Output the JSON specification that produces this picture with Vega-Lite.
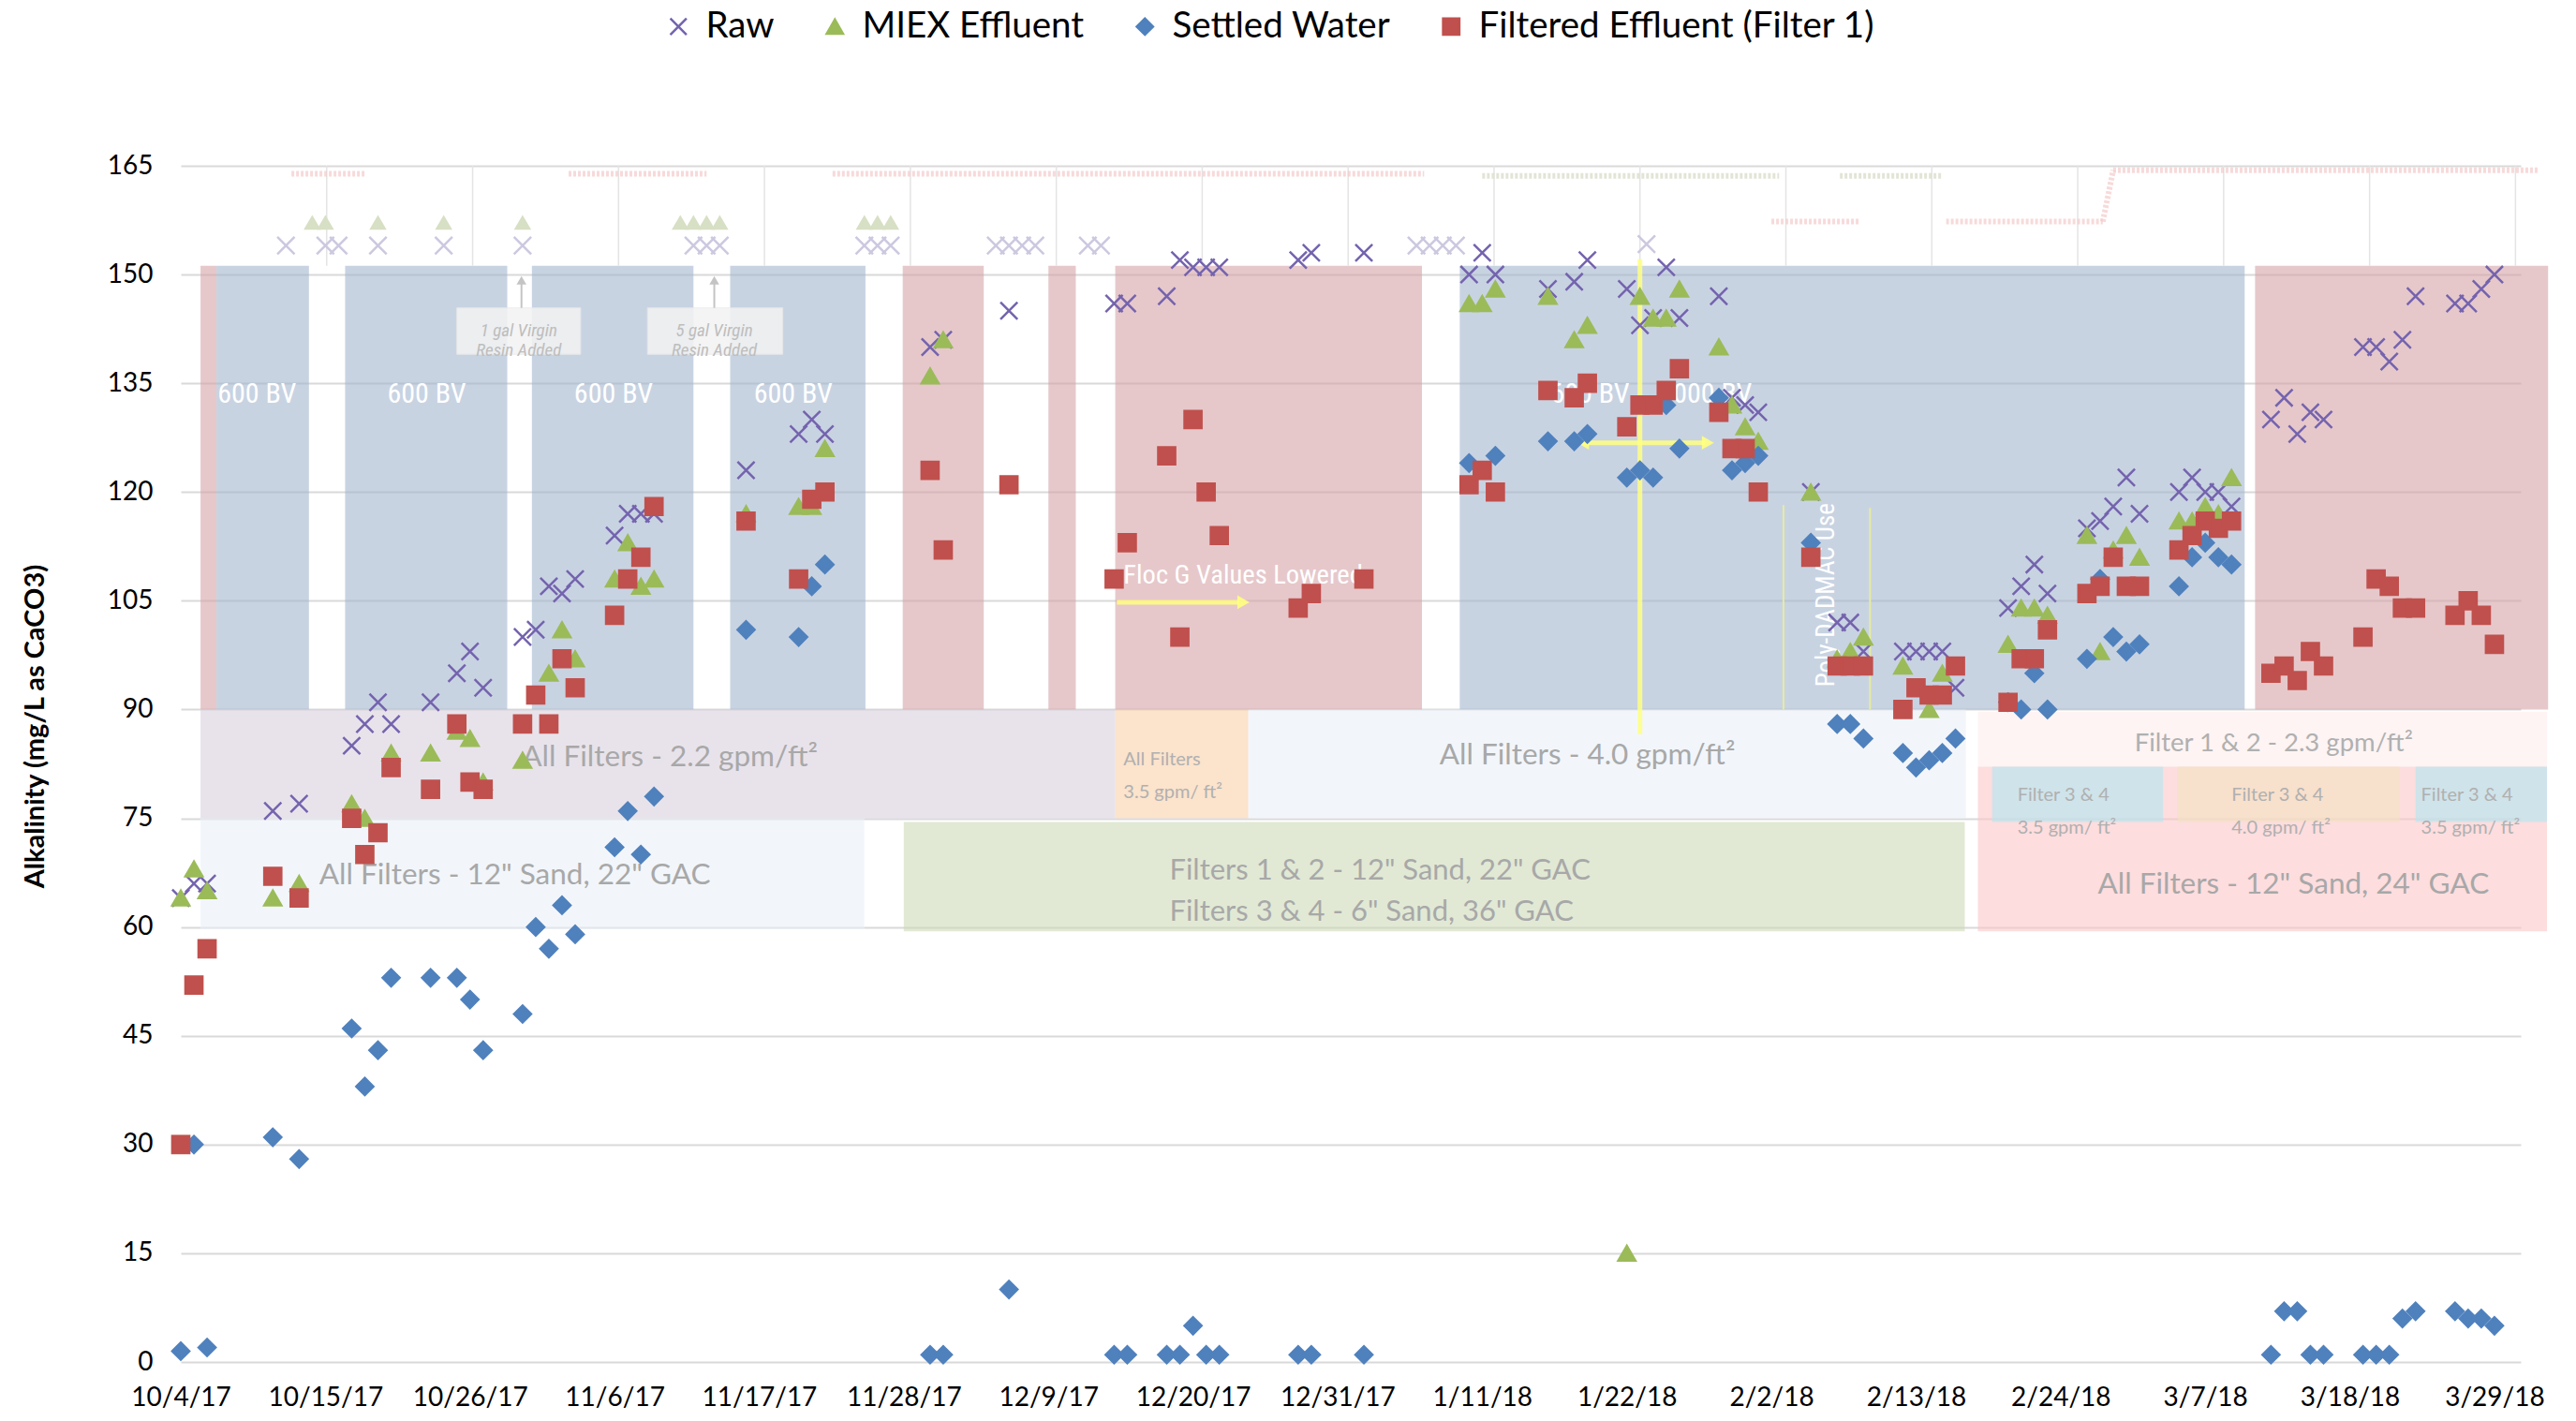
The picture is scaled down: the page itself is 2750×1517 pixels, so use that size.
{
"$schema": "https://vega.github.io/schema/vega-lite/v6.json",
"width": 2498, "height": 1277,
"autosize": {"type": "none"},
"padding": {"left": 193, "top": 177, "right": 59, "bottom": 63},
"background": "white",
"config": {
  "font": "Lato",
  "view": {"stroke": null},
  "axisX": {"ticks": false, "domain": false, "grid": false, "labelFontSize": 28, "labelColor": "#000", "labelPadding": 24, "labelFlush": false, "labelFont": "Lato"},
  "axisY": {"ticks": false, "domain": false, "grid": true, "gridColor": "#D9D9D9", "gridWidth": 2, "labelFontSize": 28, "labelColor": "#000", "labelPadding": 30, "titleFontSize": 29, "titleFontWeight": "bold", "titleColor": "#000", "titlePadding": 62, "titleY": 598, "labelFont": "Lato", "titleFont": "Lato"},
  "legend": {"orient": "none", "legendX": 512, "legendY": -168, "direction": "horizontal", "labelFontSize": 38.5, "labelFont": "Lato", "labelColor": "#000", "labelLimit": 0, "symbolSize": 300, "symbolStrokeWidth": 2.5, "columnPadding": 45, "labelOffset": 10}
},
"datasets": {
  "bands": [
    {"start":"2017/10/05 12:00","end":"2017/10/06 17:00","lo":90,"hi":151.2,"kind":"red"},
    {"start":"2017/10/06 17:00","end":"2017/10/13 18:00","lo":90,"hi":151.2,"kind":"blue"},
    {"start":"2017/10/16 12:00","end":"2017/10/28 20:00","lo":90,"hi":151.2,"kind":"blue"},
    {"start":"2017/10/30 17:00","end":"2017/11/12 00:00","lo":90,"hi":151.2,"kind":"blue"},
    {"start":"2017/11/14 19:00","end":"2017/11/25 02:00","lo":90,"hi":151.2,"kind":"blue"},
    {"start":"2017/11/27 22:00","end":"2017/12/04 02:00","lo":90,"hi":151.2,"kind":"red"},
    {"start":"2017/12/09 00:00","end":"2017/12/11 02:00","lo":90,"hi":151.2,"kind":"red"},
    {"start":"2017/12/14 02:00","end":"2018/01/06 10:00","lo":90,"hi":151.2,"kind":"red"},
    {"start":"2018/01/09 07:00","end":"2018/03/10 00:00","lo":90,"hi":151.2,"kind":"blue"},
    {"start":"2018/03/10 19:00","end":"2018/04/02 02:00","lo":90,"hi":151.2,"kind":"red"},
    {"start":"2017/10/05 12:00","end":"2017/12/14 02:00","lo":75,"hi":90,"kind":"lav"},
    {"start":"2017/12/14 02:00","end":"2017/12/24 05:00","lo":75,"hi":90,"kind":"orange"},
    {"start":"2017/12/24 05:00","end":"2018/02/16 19:00","lo":75,"hi":90,"kind":"lblue"},
    {"start":"2017/10/05 12:00","end":"2017/11/25 00:00","lo":59.7,"hi":75,"kind":"lblue"},
    {"start":"2017/11/28 00:00","end":"2018/02/16 17:00","lo":59.4,"hi":74.5,"kind":"green"},
    {"start":"2018/02/17 17:00","end":"2018/04/02 00:00","lo":82.1,"hi":89.7,"kind":"pale"},
    {"start":"2018/02/17 17:00","end":"2018/04/02 00:00","lo":59.4,"hi":82.1,"kind":"pink"},
    {"start":"2018/02/18 19:00","end":"2018/03/03 19:00","lo":74.5,"hi":82.1,"kind":"teal"},
    {"start":"2018/03/04 22:00","end":"2018/03/21 19:00","lo":74.5,"hi":82.1,"kind":"orange2"},
    {"start":"2018/03/23 00:00","end":"2018/04/02 00:00","lo":74.5,"hi":82.1,"kind":"teal"}
  ],
  "ggrid": [
    {"d":"2017/10/15 02:24","lo":151.2,"hi":165},{"d":"2017/10/26 04:48","lo":151.2,"hi":165},
    {"d":"2017/11/06 07:12","lo":151.2,"hi":165},{"d":"2017/11/17 09:36","lo":151.2,"hi":165},
    {"d":"2017/11/28 12:00","lo":151.2,"hi":165},{"d":"2017/12/09 14:24","lo":151.2,"hi":165},
    {"d":"2017/12/20 16:48","lo":151.2,"hi":165},{"d":"2017/12/31 19:12","lo":151.2,"hi":165},
    {"d":"2018/01/11 21:36","lo":151.2,"hi":165},{"d":"2018/01/23 00:00","lo":151.2,"hi":165},
    {"d":"2018/02/03 02:24","lo":151.2,"hi":165},{"d":"2018/02/14 04:48","lo":151.2,"hi":165},
    {"d":"2018/02/25 07:12","lo":151.2,"hi":165},{"d":"2018/03/08 09:36","lo":151.2,"hi":165},
    {"d":"2018/03/19 12:00","lo":151.2,"hi":165},{"d":"2018/03/30 14:24","lo":151.2,"hi":165}
  ],
  "gline": [
    {"a":"2017/10/12 10:00","b":"2017/10/18 02:00","y1":163.9,"y2":163.9,"k":"pink"},
    {"a":"2017/11/02 12:00","b":"2017/11/13 00:00","y1":163.9,"y2":163.9,"k":"pink"},
    {"a":"2017/11/22 14:00","b":"2018/01/06 14:00","y1":163.9,"y2":163.9,"k":"pink"},
    {"a":"2018/01/11 00:00","b":"2018/02/02 14:00","y1":163.6,"y2":163.6,"k":"grey"},
    {"a":"2018/02/07 05:00","b":"2018/02/15 00:00","y1":163.6,"y2":163.6,"k":"grey"},
    {"a":"2018/02/02 00:00","b":"2018/02/08 17:00","y1":157.3,"y2":157.3,"k":"pink"},
    {"a":"2018/02/15 07:00","b":"2018/02/27 05:00","y1":157.3,"y2":157.3,"k":"pink"},
    {"a":"2018/02/27 05:00","b":"2018/02/28 00:00","y1":157.3,"y2":164.4,"k":"pink"},
    {"a":"2018/02/28 00:00","b":"2018/04/01 10:00","y1":164.4,"y2":164.4,"k":"pink"}
  ],
  "rbox": [
    {"a":"2017/10/25 00:00","b":"2017/11/03 10:00","lo":139,"hi":145.4},
    {"a":"2017/11/08 12:00","b":"2017/11/18 19:00","lo":139,"hi":145.4}
  ],
  "rarrow": [
    {"d":"2017/10/29 22:00","lo":145.4,"hi":149.2},
    {"d":"2017/11/13 14:00","lo":145.4,"hi":149.2}
  ],
  "ylines": [
    {"a":"2018/01/23 00:00","b":"2018/01/23 00:00","y1":86.6,"y2":152.1},
    {"a":"2018/01/18 16:00","b":"2018/01/28 00:00","y1":126.8,"y2":126.8},
    {"a":"2017/12/14 05:00","b":"2017/12/23 12:00","y1":104.8,"y2":104.8}
  ],
  "yheadsR": [
    {"d":"2018/01/28 04:00","v":126.8},
    {"d":"2017/12/23 20:00","v":104.8}
  ],
  "yheadsL": [
    {"d":"2018/01/18 16:00","v":126.8}
  ],
  "plines": [
    {"d":"2018/02/02 22:00","lo":90,"hi":118.2},
    {"d":"2018/02/09 12:00","lo":90,"hi":117.8}
  ],
  "tbig": [
    {"d":"2017/11/10 05:00","v":83.3,"t":"All Filters - 2.2 gpm/ft²"},
    {"d":"2017/10/29 10:00","v":67.1,"t":"All Filters -  12\" Sand, 22\" GAC"},
    {"d":"2018/01/19 00:00","v":83.6,"t":"All Filters - 4.0 gpm/ft²"},
    {"d":"2018/03/13 17:00","v":65.8,"t":"All Filters - 12\" Sand, 24\" GAC"}
  ],
  "tfilters": [
    {"d":"2017/12/18 05:00","v":67.65,"t":"Filters 1 & 2 - 12\" Sand, 22\" GAC\nFilters 3 & 4 - 6\" Sand, 36\" GAC"}
  ],
  "tmid": [
    {"d":"2018/03/12 05:00","v":85.3,"t":"Filter 1 & 2 - 2.3 gpm/ft²"}
  ],
  "tsmall": [
    {"d":"2017/12/14 17:00","v":83.1,"t":"All Filters\n3.5 gpm/ ft²"},
    {"d":"2018/02/20 17:00","v":78.2,"t":"Filter 3 & 4\n3.5 gpm/ ft²"},
    {"d":"2018/03/09 00:00","v":78.2,"t":"Filter 3 & 4\n4.0 gpm/ ft²"},
    {"d":"2018/03/23 10:00","v":78.2,"t":"Filter 3 & 4\n3.5 gpm/ ft²"}
  ],
  "twhite": [
    {"d":"2017/10/09 19:00","v":133.5,"t":"600 BV"},
    {"d":"2017/10/22 17:00","v":133.5,"t":"600 BV"},
    {"d":"2017/11/05 22:00","v":133.5,"t":"600 BV"},
    {"d":"2017/11/19 14:00","v":133.5,"t":"600 BV"},
    {"d":"2018/01/19 05:00","v":133.5,"t":"600 BV"},
    {"d":"2018/01/28 00:00","v":133.5,"t":"1000 BV"}
  ],
  "tfloc": [{"d":"2017/12/14 17:00","v":108.5,"t":"Floc G Values Lowered"}],
  "tpoly": [{"d":"2018/02/06 05:00","v":105.8,"t":"Poly-DADMAC Use"}],
  "tresin": [
    {"d":"2017/10/29 17:00","v":142.2,"t":"1 gal Virgin\nResin Added"},
    {"d":"2017/11/13 14:00","v":142.2,"t":"5 gal Virgin\nResin Added"}
  ],
  "gpts": [
    {"d":"2017/10/14","v":157.2,"s":"tri"},{"d":"2017/10/15","v":157.2,"s":"tri"},{"d":"2017/10/19","v":157.2,"s":"tri"},
    {"d":"2017/10/24","v":157.2,"s":"tri"},{"d":"2017/10/30","v":157.2,"s":"tri"},{"d":"2017/11/11","v":157.2,"s":"tri"},
    {"d":"2017/11/12","v":157.2,"s":"tri"},{"d":"2017/11/13","v":157.2,"s":"tri"},{"d":"2017/11/14","v":157.2,"s":"tri"},
    {"d":"2017/11/25","v":157.2,"s":"tri"},{"d":"2017/11/26","v":157.2,"s":"tri"},{"d":"2017/11/27","v":157.2,"s":"tri"},
    {"d":"2017/10/12","v":154,"s":"x"},{"d":"2017/10/15","v":154,"s":"x"},{"d":"2017/10/16","v":154,"s":"x"},
    {"d":"2017/10/19","v":154,"s":"x"},{"d":"2017/10/24","v":154,"s":"x"},{"d":"2017/10/30","v":154,"s":"x"},
    {"d":"2017/11/12","v":154,"s":"x"},{"d":"2017/11/13","v":154,"s":"x"},{"d":"2017/11/14","v":154,"s":"x"},
    {"d":"2017/11/25","v":154,"s":"x"},{"d":"2017/11/26","v":154,"s":"x"},{"d":"2017/11/27","v":154,"s":"x"},
    {"d":"2017/12/05","v":154,"s":"x"},{"d":"2017/12/06","v":154,"s":"x"},{"d":"2017/12/07","v":154,"s":"x"},
    {"d":"2017/12/08","v":154,"s":"x"},{"d":"2017/12/12","v":154,"s":"x"},{"d":"2017/12/13","v":154,"s":"x"},
    {"d":"2018/01/06","v":154,"s":"x"},{"d":"2018/01/07","v":154,"s":"x"},{"d":"2018/01/08","v":154,"s":"x"},
    {"d":"2018/01/09","v":154,"s":"x"},{"d":"2018/01/23 12:00","v":154.2,"s":"x"}
  ],
  "pts": [
    {"d":"2017/10/04","v":64,"s":"Raw"},{"d":"2017/10/05","v":66,"s":"Raw"},{"d":"2017/10/06","v":66,"s":"Raw"},
    {"d":"2017/10/11","v":76,"s":"Raw"},{"d":"2017/10/13","v":77,"s":"Raw"},{"d":"2017/10/17","v":85,"s":"Raw"},
    {"d":"2017/10/18","v":88,"s":"Raw"},{"d":"2017/10/19","v":91,"s":"Raw"},{"d":"2017/10/20","v":88,"s":"Raw"},
    {"d":"2017/10/23","v":91,"s":"Raw"},{"d":"2017/10/25","v":95,"s":"Raw"},{"d":"2017/10/26","v":98,"s":"Raw"},
    {"d":"2017/10/27","v":93,"s":"Raw"},{"d":"2017/10/30","v":100,"s":"Raw"},{"d":"2017/10/31","v":101,"s":"Raw"},
    {"d":"2017/11/01","v":107,"s":"Raw"},{"d":"2017/11/02","v":106,"s":"Raw"},{"d":"2017/11/03","v":108,"s":"Raw"},
    {"d":"2017/11/06","v":114,"s":"Raw"},{"d":"2017/11/07","v":117,"s":"Raw"},{"d":"2017/11/08","v":117,"s":"Raw"},
    {"d":"2017/11/09","v":117,"s":"Raw"},{"d":"2017/11/16","v":123,"s":"Raw"},{"d":"2017/11/20","v":128,"s":"Raw"},
    {"d":"2017/11/21","v":130,"s":"Raw"},{"d":"2017/11/22","v":128,"s":"Raw"},{"d":"2017/11/30","v":140,"s":"Raw"},
    {"d":"2017/12/01","v":141,"s":"Raw"},{"d":"2017/12/06","v":145,"s":"Raw"},{"d":"2017/12/14","v":146,"s":"Raw"},
    {"d":"2017/12/15","v":146,"s":"Raw"},{"d":"2017/12/18","v":147,"s":"Raw"},{"d":"2017/12/19","v":152,"s":"Raw"},
    {"d":"2017/12/20","v":151,"s":"Raw"},{"d":"2017/12/21","v":151,"s":"Raw"},{"d":"2017/12/22","v":151,"s":"Raw"},
    {"d":"2017/12/28","v":152,"s":"Raw"},{"d":"2017/12/29","v":153,"s":"Raw"},{"d":"2018/01/02","v":153,"s":"Raw"},
    {"d":"2018/01/10","v":150,"s":"Raw"},{"d":"2018/01/11","v":153,"s":"Raw"},{"d":"2018/01/12","v":150,"s":"Raw"},
    {"d":"2018/01/16","v":148,"s":"Raw"},{"d":"2018/01/18","v":149,"s":"Raw"},{"d":"2018/01/19","v":152,"s":"Raw"},
    {"d":"2018/01/22","v":148,"s":"Raw"},{"d":"2018/01/23","v":143,"s":"Raw"},{"d":"2018/01/24","v":144,"s":"Raw"},
    {"d":"2018/01/25","v":151,"s":"Raw"},{"d":"2018/01/26","v":144,"s":"Raw"},{"d":"2018/01/29","v":147,"s":"Raw"},
    {"d":"2018/01/30","v":133,"s":"Raw"},{"d":"2018/01/31","v":132,"s":"Raw"},{"d":"2018/02/01","v":131,"s":"Raw"},
    {"d":"2018/02/05","v":120,"s":"Raw"},{"d":"2018/02/07","v":102,"s":"Raw"},{"d":"2018/02/08","v":102,"s":"Raw"},
    {"d":"2018/02/09","v":98,"s":"Raw"},{"d":"2018/02/12","v":98,"s":"Raw"},{"d":"2018/02/13","v":98,"s":"Raw"},
    {"d":"2018/02/14","v":98,"s":"Raw"},{"d":"2018/02/15","v":98,"s":"Raw"},{"d":"2018/02/16","v":93,"s":"Raw"},
    {"d":"2018/02/20","v":104,"s":"Raw"},{"d":"2018/02/21","v":107,"s":"Raw"},{"d":"2018/02/22","v":110,"s":"Raw"},
    {"d":"2018/02/23","v":106,"s":"Raw"},{"d":"2018/02/26","v":115,"s":"Raw"},{"d":"2018/02/27","v":116,"s":"Raw"},
    {"d":"2018/02/28","v":118,"s":"Raw"},{"d":"2018/03/01","v":122,"s":"Raw"},{"d":"2018/03/02","v":117,"s":"Raw"},
    {"d":"2018/03/05","v":120,"s":"Raw"},{"d":"2018/03/06","v":122,"s":"Raw"},{"d":"2018/03/07","v":120,"s":"Raw"},
    {"d":"2018/03/08","v":120,"s":"Raw"},{"d":"2018/03/09","v":118,"s":"Raw"},{"d":"2018/03/12","v":130,"s":"Raw"},
    {"d":"2018/03/13","v":133,"s":"Raw"},{"d":"2018/03/14","v":128,"s":"Raw"},{"d":"2018/03/15","v":131,"s":"Raw"},
    {"d":"2018/03/16","v":130,"s":"Raw"},{"d":"2018/03/19","v":140,"s":"Raw"},{"d":"2018/03/20","v":140,"s":"Raw"},
    {"d":"2018/03/21","v":138,"s":"Raw"},{"d":"2018/03/22","v":141,"s":"Raw"},{"d":"2018/03/23","v":147,"s":"Raw"},
    {"d":"2018/03/26","v":146,"s":"Raw"},{"d":"2018/03/27","v":146,"s":"Raw"},{"d":"2018/03/28","v":148,"s":"Raw"},
    {"d":"2018/03/29","v":150,"s":"Raw"},

    {"d":"2017/10/04","v":64,"s":"MIEX Effluent"},{"d":"2017/10/05","v":68,"s":"MIEX Effluent"},{"d":"2017/10/06","v":65,"s":"MIEX Effluent"},
    {"d":"2017/10/11","v":64,"s":"MIEX Effluent"},{"d":"2017/10/13","v":66,"s":"MIEX Effluent"},{"d":"2017/10/17","v":77,"s":"MIEX Effluent"},
    {"d":"2017/10/18","v":75,"s":"MIEX Effluent"},{"d":"2017/10/20","v":84,"s":"MIEX Effluent"},{"d":"2017/10/23","v":84,"s":"MIEX Effluent"},
    {"d":"2017/10/25","v":87,"s":"MIEX Effluent"},{"d":"2017/10/26","v":86,"s":"MIEX Effluent"},{"d":"2017/10/27","v":80,"s":"MIEX Effluent"},
    {"d":"2017/10/30","v":83,"s":"MIEX Effluent"},{"d":"2017/11/01","v":95,"s":"MIEX Effluent"},{"d":"2017/11/02","v":101,"s":"MIEX Effluent"},
    {"d":"2017/11/03","v":97,"s":"MIEX Effluent"},{"d":"2017/11/06","v":108,"s":"MIEX Effluent"},{"d":"2017/11/07","v":113,"s":"MIEX Effluent"},
    {"d":"2017/11/08","v":107,"s":"MIEX Effluent"},{"d":"2017/11/09","v":108,"s":"MIEX Effluent"},{"d":"2017/11/16","v":117,"s":"MIEX Effluent"},
    {"d":"2017/11/20","v":118,"s":"MIEX Effluent"},{"d":"2017/11/21","v":118,"s":"MIEX Effluent"},{"d":"2017/11/22","v":126,"s":"MIEX Effluent"},
    {"d":"2017/11/30","v":136,"s":"MIEX Effluent"},{"d":"2017/12/01","v":141,"s":"MIEX Effluent"},{"d":"2018/01/10","v":146,"s":"MIEX Effluent"},
    {"d":"2018/01/11","v":146,"s":"MIEX Effluent"},{"d":"2018/01/12","v":148,"s":"MIEX Effluent"},{"d":"2018/01/16","v":147,"s":"MIEX Effluent"},
    {"d":"2018/01/18","v":141,"s":"MIEX Effluent"},{"d":"2018/01/19","v":143,"s":"MIEX Effluent"},{"d":"2018/01/22","v":15,"s":"MIEX Effluent"},
    {"d":"2018/01/23","v":147,"s":"MIEX Effluent"},{"d":"2018/01/24","v":144,"s":"MIEX Effluent"},{"d":"2018/01/25","v":144,"s":"MIEX Effluent"},
    {"d":"2018/01/26","v":148,"s":"MIEX Effluent"},{"d":"2018/01/29","v":140,"s":"MIEX Effluent"},{"d":"2018/01/30","v":132,"s":"MIEX Effluent"},
    {"d":"2018/01/31","v":129,"s":"MIEX Effluent"},{"d":"2018/02/01","v":127,"s":"MIEX Effluent"},{"d":"2018/02/05","v":120,"s":"MIEX Effluent"},
    {"d":"2018/02/07","v":97,"s":"MIEX Effluent"},{"d":"2018/02/08","v":98,"s":"MIEX Effluent"},{"d":"2018/02/09","v":100,"s":"MIEX Effluent"},
    {"d":"2018/02/12","v":96,"s":"MIEX Effluent"},{"d":"2018/02/14","v":90,"s":"MIEX Effluent"},{"d":"2018/02/15","v":95,"s":"MIEX Effluent"},
    {"d":"2018/02/20","v":99,"s":"MIEX Effluent"},{"d":"2018/02/21","v":104,"s":"MIEX Effluent"},{"d":"2018/02/22","v":104,"s":"MIEX Effluent"},
    {"d":"2018/02/23","v":103,"s":"MIEX Effluent"},{"d":"2018/02/26","v":114,"s":"MIEX Effluent"},{"d":"2018/02/27","v":98,"s":"MIEX Effluent"},
    {"d":"2018/02/28","v":112,"s":"MIEX Effluent"},{"d":"2018/03/01","v":114,"s":"MIEX Effluent"},{"d":"2018/03/02","v":111,"s":"MIEX Effluent"},
    {"d":"2018/03/05","v":116,"s":"MIEX Effluent"},{"d":"2018/03/06","v":116,"s":"MIEX Effluent"},{"d":"2018/03/07","v":118,"s":"MIEX Effluent"},
    {"d":"2018/03/08","v":117,"s":"MIEX Effluent"},{"d":"2018/03/09","v":122,"s":"MIEX Effluent"},

    {"d":"2017/10/04","v":1.5,"s":"Settled Water"},{"d":"2017/10/05","v":30,"s":"Settled Water"},{"d":"2017/10/06","v":2,"s":"Settled Water"},
    {"d":"2017/10/11","v":31,"s":"Settled Water"},{"d":"2017/10/13","v":28,"s":"Settled Water"},{"d":"2017/10/17","v":46,"s":"Settled Water"},
    {"d":"2017/10/18","v":38,"s":"Settled Water"},{"d":"2017/10/19","v":43,"s":"Settled Water"},{"d":"2017/10/20","v":53,"s":"Settled Water"},
    {"d":"2017/10/23","v":53,"s":"Settled Water"},{"d":"2017/10/25","v":53,"s":"Settled Water"},{"d":"2017/10/26","v":50,"s":"Settled Water"},
    {"d":"2017/10/27","v":43,"s":"Settled Water"},{"d":"2017/10/30","v":48,"s":"Settled Water"},{"d":"2017/10/31","v":60,"s":"Settled Water"},
    {"d":"2017/11/01","v":57,"s":"Settled Water"},{"d":"2017/11/02","v":63,"s":"Settled Water"},{"d":"2017/11/03","v":59,"s":"Settled Water"},
    {"d":"2017/11/06","v":71,"s":"Settled Water"},{"d":"2017/11/07","v":76,"s":"Settled Water"},{"d":"2017/11/08","v":70,"s":"Settled Water"},
    {"d":"2017/11/09","v":78,"s":"Settled Water"},{"d":"2017/11/16","v":101,"s":"Settled Water"},{"d":"2017/11/20","v":100,"s":"Settled Water"},
    {"d":"2017/11/21","v":107,"s":"Settled Water"},{"d":"2017/11/22","v":110,"s":"Settled Water"},{"d":"2017/11/30","v":1,"s":"Settled Water"},
    {"d":"2017/12/01","v":1,"s":"Settled Water"},{"d":"2017/12/06","v":10,"s":"Settled Water"},{"d":"2017/12/14","v":1,"s":"Settled Water"},
    {"d":"2017/12/15","v":1,"s":"Settled Water"},{"d":"2017/12/18","v":1,"s":"Settled Water"},{"d":"2017/12/19","v":1,"s":"Settled Water"},
    {"d":"2017/12/20","v":5,"s":"Settled Water"},{"d":"2017/12/21","v":1,"s":"Settled Water"},{"d":"2017/12/22","v":1,"s":"Settled Water"},
    {"d":"2017/12/28","v":1,"s":"Settled Water"},{"d":"2017/12/29","v":1,"s":"Settled Water"},{"d":"2018/01/02","v":1,"s":"Settled Water"},
    {"d":"2018/01/10","v":124,"s":"Settled Water"},{"d":"2018/01/12","v":125,"s":"Settled Water"},{"d":"2018/01/16","v":127,"s":"Settled Water"},
    {"d":"2018/01/18","v":127,"s":"Settled Water"},{"d":"2018/01/19","v":128,"s":"Settled Water"},{"d":"2018/01/22","v":122,"s":"Settled Water"},
    {"d":"2018/01/23","v":123,"s":"Settled Water"},{"d":"2018/01/24","v":122,"s":"Settled Water"},{"d":"2018/01/25","v":132,"s":"Settled Water"},
    {"d":"2018/01/26","v":126,"s":"Settled Water"},{"d":"2018/01/29","v":133,"s":"Settled Water"},{"d":"2018/01/30","v":123,"s":"Settled Water"},
    {"d":"2018/01/31","v":124,"s":"Settled Water"},{"d":"2018/02/01","v":125,"s":"Settled Water"},{"d":"2018/02/05","v":113,"s":"Settled Water"},
    {"d":"2018/02/07","v":88,"s":"Settled Water"},{"d":"2018/02/08","v":88,"s":"Settled Water"},{"d":"2018/02/09","v":86,"s":"Settled Water"},
    {"d":"2018/02/12","v":84,"s":"Settled Water"},{"d":"2018/02/13","v":82,"s":"Settled Water"},{"d":"2018/02/14","v":83,"s":"Settled Water"},
    {"d":"2018/02/15","v":84,"s":"Settled Water"},{"d":"2018/02/16","v":86,"s":"Settled Water"},{"d":"2018/02/20","v":91,"s":"Settled Water"},
    {"d":"2018/02/21","v":90,"s":"Settled Water"},{"d":"2018/02/22","v":95,"s":"Settled Water"},{"d":"2018/02/23","v":90,"s":"Settled Water"},
    {"d":"2018/02/26","v":97,"s":"Settled Water"},{"d":"2018/02/27","v":108,"s":"Settled Water"},{"d":"2018/02/28","v":100,"s":"Settled Water"},
    {"d":"2018/03/01","v":98,"s":"Settled Water"},{"d":"2018/03/02","v":99,"s":"Settled Water"},{"d":"2018/03/05","v":107,"s":"Settled Water"},
    {"d":"2018/03/06","v":111,"s":"Settled Water"},{"d":"2018/03/07","v":113,"s":"Settled Water"},{"d":"2018/03/08","v":111,"s":"Settled Water"},
    {"d":"2018/03/09","v":110,"s":"Settled Water"},{"d":"2018/03/12","v":1,"s":"Settled Water"},{"d":"2018/03/13","v":7,"s":"Settled Water"},
    {"d":"2018/03/14","v":7,"s":"Settled Water"},{"d":"2018/03/15","v":1,"s":"Settled Water"},{"d":"2018/03/16","v":1,"s":"Settled Water"},
    {"d":"2018/03/19","v":1,"s":"Settled Water"},{"d":"2018/03/20","v":1,"s":"Settled Water"},{"d":"2018/03/21","v":1,"s":"Settled Water"},
    {"d":"2018/03/22","v":6,"s":"Settled Water"},{"d":"2018/03/23","v":7,"s":"Settled Water"},{"d":"2018/03/26","v":7,"s":"Settled Water"},
    {"d":"2018/03/27","v":6,"s":"Settled Water"},{"d":"2018/03/28","v":6,"s":"Settled Water"},{"d":"2018/03/29","v":5,"s":"Settled Water"},

    {"d":"2017/10/04","v":30,"s":"Filtered Effluent (Filter 1)"},{"d":"2017/10/05","v":52,"s":"Filtered Effluent (Filter 1)"},{"d":"2017/10/06","v":57,"s":"Filtered Effluent (Filter 1)"},
    {"d":"2017/10/11","v":67,"s":"Filtered Effluent (Filter 1)"},{"d":"2017/10/13","v":64,"s":"Filtered Effluent (Filter 1)"},{"d":"2017/10/17","v":75,"s":"Filtered Effluent (Filter 1)"},
    {"d":"2017/10/18","v":70,"s":"Filtered Effluent (Filter 1)"},{"d":"2017/10/19","v":73,"s":"Filtered Effluent (Filter 1)"},{"d":"2017/10/20","v":82,"s":"Filtered Effluent (Filter 1)"},
    {"d":"2017/10/23","v":79,"s":"Filtered Effluent (Filter 1)"},{"d":"2017/10/25","v":88,"s":"Filtered Effluent (Filter 1)"},{"d":"2017/10/26","v":80,"s":"Filtered Effluent (Filter 1)"},
    {"d":"2017/10/27","v":79,"s":"Filtered Effluent (Filter 1)"},{"d":"2017/10/30","v":88,"s":"Filtered Effluent (Filter 1)"},{"d":"2017/10/31","v":92,"s":"Filtered Effluent (Filter 1)"},
    {"d":"2017/11/01","v":88,"s":"Filtered Effluent (Filter 1)"},{"d":"2017/11/02","v":97,"s":"Filtered Effluent (Filter 1)"},{"d":"2017/11/03","v":93,"s":"Filtered Effluent (Filter 1)"},
    {"d":"2017/11/06","v":103,"s":"Filtered Effluent (Filter 1)"},{"d":"2017/11/07","v":108,"s":"Filtered Effluent (Filter 1)"},{"d":"2017/11/08","v":111,"s":"Filtered Effluent (Filter 1)"},
    {"d":"2017/11/09","v":118,"s":"Filtered Effluent (Filter 1)"},{"d":"2017/11/16","v":116,"s":"Filtered Effluent (Filter 1)"},{"d":"2017/11/20","v":108,"s":"Filtered Effluent (Filter 1)"},
    {"d":"2017/11/21","v":119,"s":"Filtered Effluent (Filter 1)"},{"d":"2017/11/22","v":120,"s":"Filtered Effluent (Filter 1)"},{"d":"2017/11/30","v":123,"s":"Filtered Effluent (Filter 1)"},
    {"d":"2017/12/01","v":112,"s":"Filtered Effluent (Filter 1)"},{"d":"2017/12/06","v":121,"s":"Filtered Effluent (Filter 1)"},{"d":"2017/12/14","v":108,"s":"Filtered Effluent (Filter 1)"},
    {"d":"2017/12/15","v":113,"s":"Filtered Effluent (Filter 1)"},{"d":"2017/12/18","v":125,"s":"Filtered Effluent (Filter 1)"},{"d":"2017/12/19","v":100,"s":"Filtered Effluent (Filter 1)"},
    {"d":"2017/12/20","v":130,"s":"Filtered Effluent (Filter 1)"},{"d":"2017/12/21","v":120,"s":"Filtered Effluent (Filter 1)"},{"d":"2017/12/22","v":114,"s":"Filtered Effluent (Filter 1)"},
    {"d":"2017/12/28","v":104,"s":"Filtered Effluent (Filter 1)"},{"d":"2017/12/29","v":106,"s":"Filtered Effluent (Filter 1)"},{"d":"2018/01/02","v":108,"s":"Filtered Effluent (Filter 1)"},
    {"d":"2018/01/10","v":121,"s":"Filtered Effluent (Filter 1)"},{"d":"2018/01/11","v":123,"s":"Filtered Effluent (Filter 1)"},{"d":"2018/01/12","v":120,"s":"Filtered Effluent (Filter 1)"},
    {"d":"2018/01/16","v":134,"s":"Filtered Effluent (Filter 1)"},{"d":"2018/01/18","v":133,"s":"Filtered Effluent (Filter 1)"},{"d":"2018/01/19","v":135,"s":"Filtered Effluent (Filter 1)"},
    {"d":"2018/01/22","v":129,"s":"Filtered Effluent (Filter 1)"},{"d":"2018/01/23","v":132,"s":"Filtered Effluent (Filter 1)"},{"d":"2018/01/24","v":132,"s":"Filtered Effluent (Filter 1)"},
    {"d":"2018/01/25","v":134,"s":"Filtered Effluent (Filter 1)"},{"d":"2018/01/26","v":137,"s":"Filtered Effluent (Filter 1)"},{"d":"2018/01/29","v":131,"s":"Filtered Effluent (Filter 1)"},
    {"d":"2018/01/30","v":126,"s":"Filtered Effluent (Filter 1)"},{"d":"2018/01/31","v":126,"s":"Filtered Effluent (Filter 1)"},{"d":"2018/02/01","v":120,"s":"Filtered Effluent (Filter 1)"},
    {"d":"2018/02/05","v":111,"s":"Filtered Effluent (Filter 1)"},{"d":"2018/02/07","v":96,"s":"Filtered Effluent (Filter 1)"},{"d":"2018/02/08","v":96,"s":"Filtered Effluent (Filter 1)"},
    {"d":"2018/02/09","v":96,"s":"Filtered Effluent (Filter 1)"},{"d":"2018/02/12","v":90,"s":"Filtered Effluent (Filter 1)"},{"d":"2018/02/13","v":93,"s":"Filtered Effluent (Filter 1)"},
    {"d":"2018/02/14","v":92,"s":"Filtered Effluent (Filter 1)"},{"d":"2018/02/15","v":92,"s":"Filtered Effluent (Filter 1)"},{"d":"2018/02/16","v":96,"s":"Filtered Effluent (Filter 1)"},
    {"d":"2018/02/20","v":91,"s":"Filtered Effluent (Filter 1)"},{"d":"2018/02/21","v":97,"s":"Filtered Effluent (Filter 1)"},{"d":"2018/02/22","v":97,"s":"Filtered Effluent (Filter 1)"},
    {"d":"2018/02/23","v":101,"s":"Filtered Effluent (Filter 1)"},{"d":"2018/02/26","v":106,"s":"Filtered Effluent (Filter 1)"},{"d":"2018/02/27","v":107,"s":"Filtered Effluent (Filter 1)"},
    {"d":"2018/02/28","v":111,"s":"Filtered Effluent (Filter 1)"},{"d":"2018/03/01","v":107,"s":"Filtered Effluent (Filter 1)"},{"d":"2018/03/02","v":107,"s":"Filtered Effluent (Filter 1)"},
    {"d":"2018/03/05","v":112,"s":"Filtered Effluent (Filter 1)"},{"d":"2018/03/06","v":114,"s":"Filtered Effluent (Filter 1)"},{"d":"2018/03/07","v":116,"s":"Filtered Effluent (Filter 1)"},
    {"d":"2018/03/08","v":115,"s":"Filtered Effluent (Filter 1)"},{"d":"2018/03/09","v":116,"s":"Filtered Effluent (Filter 1)"},{"d":"2018/03/12","v":95,"s":"Filtered Effluent (Filter 1)"},
    {"d":"2018/03/13","v":96,"s":"Filtered Effluent (Filter 1)"},{"d":"2018/03/14","v":94,"s":"Filtered Effluent (Filter 1)"},{"d":"2018/03/15","v":98,"s":"Filtered Effluent (Filter 1)"},
    {"d":"2018/03/16","v":96,"s":"Filtered Effluent (Filter 1)"},{"d":"2018/03/19","v":100,"s":"Filtered Effluent (Filter 1)"},{"d":"2018/03/20","v":108,"s":"Filtered Effluent (Filter 1)"},
    {"d":"2018/03/21","v":107,"s":"Filtered Effluent (Filter 1)"},{"d":"2018/03/22","v":104,"s":"Filtered Effluent (Filter 1)"},{"d":"2018/03/23","v":104,"s":"Filtered Effluent (Filter 1)"},
    {"d":"2018/03/26","v":103,"s":"Filtered Effluent (Filter 1)"},{"d":"2018/03/27","v":105,"s":"Filtered Effluent (Filter 1)"},{"d":"2018/03/28","v":103,"s":"Filtered Effluent (Filter 1)"},
    {"d":"2018/03/29","v":99,"s":"Filtered Effluent (Filter 1)"}
  ]
},
"layer": [
  {
    "data": {"name": "bands"},
    "mark": {"type": "rect", "opacity": 0.6},
    "encoding": {
      "x": {"field": "start", "type": "temporal", "title": null,
        "scale": {"domain": [{"year": 2017, "month": 10, "date": 4}, {"year": 2018, "month": 3, "date": 31}]},
        "axis": {"format": "%-m/%-d/%y", "values": [
          {"year":2017,"month":10,"date":4},{"year":2017,"month":10,"date":15},{"year":2017,"month":10,"date":26},
          {"year":2017,"month":11,"date":6},{"year":2017,"month":11,"date":17},{"year":2017,"month":11,"date":28},
          {"year":2017,"month":12,"date":9},{"year":2017,"month":12,"date":20},{"year":2017,"month":12,"date":31},
          {"year":2018,"month":1,"date":11},{"year":2018,"month":1,"date":22},{"year":2018,"month":2,"date":2},
          {"year":2018,"month":2,"date":13},{"year":2018,"month":2,"date":24},{"year":2018,"month":3,"date":7},
          {"year":2018,"month":3,"date":18},{"year":2018,"month":3,"date":29}]}},
      "x2": {"field": "end"},
      "y": {"field": "lo", "type": "quantitative", "title": "Alkalinity (mg/L as CaCO3)",
        "scale": {"domain": [0, 165], "nice": false, "zero": false},
        "axis": {"values": [0, 15, 30, 45, 60, 75, 90, 105, 120, 135, 150, 165]}},
      "y2": {"field": "hi"},
      "fill": {"field": "kind", "type": "nominal", "legend": null,
        "scale": {"domain": ["blue","red","lav","lblue","orange","green","pink","pale","teal","orange2"],
                  "range": ["#A3B6CF","#D5A3A8","#D9D0DE","#E9F0F7","#F8D0AA","#CDDAB9","#FCC6C8","#FCEDEB","#B0E7F2","#F3E2C0"]}}
    }
  },
  {
    "data": {"name": "ggrid"},
    "mark": {"type": "rule", "color": "#E4E4E4", "strokeWidth": 1.5},
    "encoding": {
      "x": {"field": "d", "type": "temporal", "title": null},
      "y": {"field": "lo", "type": "quantitative", "title": "Alkalinity (mg/L as CaCO3)"},
      "y2": {"field": "hi"}
    }
  },
  {
    "data": {"name": "gline"},
    "transform": [{"filter": "datum.k == 'pink'"}],
    "mark": {"type": "rule", "color": "#F3CACA", "strokeWidth": 6, "strokeDash": [3, 2], "opacity": 0.7},
    "encoding": {
      "x": {"field": "a", "type": "temporal", "title": null},
      "x2": {"field": "b"},
      "y": {"field": "y1", "type": "quantitative", "title": "Alkalinity (mg/L as CaCO3)"},
      "y2": {"field": "y2"}
    }
  },
  {
    "data": {"name": "gline"},
    "transform": [{"filter": "datum.k == 'grey'"}],
    "mark": {"type": "rule", "color": "#DFE2D2", "strokeWidth": 6, "strokeDash": [3, 2], "opacity": 0.9},
    "encoding": {
      "x": {"field": "a", "type": "temporal", "title": null},
      "x2": {"field": "b"},
      "y": {"field": "y1", "type": "quantitative", "title": "Alkalinity (mg/L as CaCO3)"},
      "y2": {"field": "y2"}
    }
  },
  {
    "data": {"name": "rbox"},
    "mark": {"type": "rect", "fill": "#F3F3F3", "opacity": 0.85, "stroke": "#EAEAEA", "strokeWidth": 1},
    "encoding": {
      "x": {"field": "a", "type": "temporal", "title": null},
      "x2": {"field": "b"},
      "y": {"field": "lo", "type": "quantitative", "title": "Alkalinity (mg/L as CaCO3)"},
      "y2": {"field": "hi"}
    }
  },
  {
    "data": {"name": "rarrow"},
    "mark": {"type": "rule", "color": "#C4C4C4", "strokeWidth": 2},
    "encoding": {
      "x": {"field": "d", "type": "temporal", "title": null},
      "y": {"field": "lo", "type": "quantitative", "title": "Alkalinity (mg/L as CaCO3)"},
      "y2": {"field": "hi"}
    }
  },
  {
    "data": {"name": "rarrow"},
    "mark": {"type": "point", "shape": "triangle-up", "filled": true, "color": "#C4C4C4", "size": 110, "opacity": 1},
    "encoding": {
      "x": {"field": "d", "type": "temporal", "title": null},
      "y": {"field": "hi", "type": "quantitative", "title": "Alkalinity (mg/L as CaCO3)"}
    }
  },
  {
    "data": {"name": "ylines"},
    "mark": {"type": "rule", "color": "#FFFF80", "strokeWidth": 5, "opacity": 0.85},
    "encoding": {
      "x": {"field": "a", "type": "temporal", "title": null},
      "x2": {"field": "b"},
      "y": {"field": "y1", "type": "quantitative", "title": "Alkalinity (mg/L as CaCO3)"},
      "y2": {"field": "y2"}
    }
  },
  {
    "data": {"name": "yheadsR"},
    "mark": {"type": "point", "shape": "triangle-right", "filled": true, "color": "#FFFF80", "size": 220, "opacity": 0.9},
    "encoding": {
      "x": {"field": "d", "type": "temporal", "title": null},
      "y": {"field": "v", "type": "quantitative", "title": "Alkalinity (mg/L as CaCO3)"}
    }
  },
  {
    "data": {"name": "yheadsL"},
    "mark": {"type": "point", "shape": "triangle-left", "filled": true, "color": "#FFFF80", "size": 220, "opacity": 0.9},
    "encoding": {
      "x": {"field": "d", "type": "temporal", "title": null},
      "y": {"field": "v", "type": "quantitative", "title": "Alkalinity (mg/L as CaCO3)"}
    }
  },
  {
    "data": {"name": "plines"},
    "mark": {"type": "rule", "color": "#E6EC9C", "strokeWidth": 2},
    "encoding": {
      "x": {"field": "d", "type": "temporal", "title": null},
      "y": {"field": "lo", "type": "quantitative", "title": "Alkalinity (mg/L as CaCO3)"},
      "y2": {"field": "hi"}
    }
  },
  {
    "data": {"name": "tbig"},
    "mark": {"type": "text", "fontSize": 31.5, "color": "#A8A8A8", "align": "center", "baseline": "middle", "font": "Lato"},
    "encoding": {
      "x": {"field": "d", "type": "temporal", "title": null},
      "y": {"field": "v", "type": "quantitative", "title": "Alkalinity (mg/L as CaCO3)"},
      "text": {"field": "t"}
    }
  },
  {
    "data": {"name": "tfilters"},
    "mark": {"type": "text", "fontSize": 31, "color": "#A8A8A8", "align": "left", "baseline": "middle", "lineBreak": "\n", "lineHeight": 44, "font": "Lato"},
    "encoding": {
      "x": {"field": "d", "type": "temporal", "title": null},
      "y": {"field": "v", "type": "quantitative", "title": "Alkalinity (mg/L as CaCO3)"},
      "text": {"field": "t"}
    }
  },
  {
    "data": {"name": "tmid"},
    "mark": {"type": "text", "fontSize": 27.5, "color": "#B0B0B0", "align": "center", "baseline": "middle", "font": "Lato"},
    "encoding": {
      "x": {"field": "d", "type": "temporal", "title": null},
      "y": {"field": "v", "type": "quantitative", "title": "Alkalinity (mg/L as CaCO3)"},
      "text": {"field": "t"}
    }
  },
  {
    "data": {"name": "tsmall"},
    "mark": {"type": "text", "fontSize": 20, "color": "#B0B0B0", "align": "left", "baseline": "middle", "lineBreak": "\n", "lineHeight": 35, "font": "Lato"},
    "encoding": {
      "x": {"field": "d", "type": "temporal", "title": null},
      "y": {"field": "v", "type": "quantitative", "title": "Alkalinity (mg/L as CaCO3)"},
      "text": {"field": "t"}
    }
  },
  {
    "data": {"name": "twhite"},
    "mark": {"type": "text", "fontSize": 30, "color": "#FFFFFF", "align": "center", "baseline": "middle", "font": "Liberation Sans Narrow, Arial Narrow, Roboto Condensed, DejaVu Sans Condensed, sans-serif"},
    "encoding": {
      "x": {"field": "d", "type": "temporal", "title": null},
      "y": {"field": "v", "type": "quantitative", "title": "Alkalinity (mg/L as CaCO3)"},
      "text": {"field": "t"}
    }
  },
  {
    "data": {"name": "tfloc"},
    "mark": {"type": "text", "fontSize": 28.5, "color": "#FFFFFF", "align": "left", "baseline": "middle", "font": "Liberation Sans Narrow, Arial Narrow, Roboto Condensed, DejaVu Sans Condensed, sans-serif"},
    "encoding": {
      "x": {"field": "d", "type": "temporal", "title": null},
      "y": {"field": "v", "type": "quantitative", "title": "Alkalinity (mg/L as CaCO3)"},
      "text": {"field": "t"}
    }
  },
  {
    "data": {"name": "tpoly"},
    "mark": {"type": "text", "fontSize": 27, "color": "#FFFFFF", "align": "center", "baseline": "middle", "angle": 270, "font": "Liberation Sans Narrow, Arial Narrow, Roboto Condensed, DejaVu Sans Condensed, sans-serif"},
    "encoding": {
      "x": {"field": "d", "type": "temporal", "title": null},
      "y": {"field": "v", "type": "quantitative", "title": "Alkalinity (mg/L as CaCO3)"},
      "text": {"field": "t"}
    }
  },
  {
    "data": {"name": "tresin"},
    "mark": {"type": "text", "fontSize": 19, "fontStyle": "italic", "color": "#BDBDBD", "align": "center", "baseline": "middle", "lineBreak": "\n", "lineHeight": 21, "font": "Liberation Sans Narrow, Arial Narrow, Roboto Condensed, DejaVu Sans Condensed, sans-serif"},
    "encoding": {
      "x": {"field": "d", "type": "temporal", "title": null},
      "y": {"field": "v", "type": "quantitative", "title": "Alkalinity (mg/L as CaCO3)"},
      "text": {"field": "t"}
    }
  },
  {
    "data": {"name": "gpts"},
    "transform": [{"filter": "datum.s == 'tri'"}],
    "mark": {"type": "point", "shape": "triangle-up", "filled": true, "color": "#D7DFC4", "size": 340, "opacity": 1},
    "encoding": {
      "x": {"field": "d", "type": "temporal", "title": null},
      "y": {"field": "v", "type": "quantitative", "title": "Alkalinity (mg/L as CaCO3)"}
    }
  },
  {
    "data": {"name": "gpts"},
    "transform": [{"filter": "datum.s == 'x'"}],
    "mark": {"type": "point", "shape": "M-1,-1L1,1M-1,1L1,-1", "filled": false, "color": "#CCC8E0", "strokeWidth": 2.5, "size": 340, "opacity": 1},
    "encoding": {
      "x": {"field": "d", "type": "temporal", "title": null},
      "y": {"field": "v", "type": "quantitative", "title": "Alkalinity (mg/L as CaCO3)"}
    }
  },
  {
    "data": {"name": "pts"},
    "mark": {"type": "point", "filled": true, "size": 330, "strokeWidth": 2.5, "opacity": 1},
    "encoding": {
      "x": {"field": "d", "type": "temporal", "title": null},
      "y": {"field": "v", "type": "quantitative", "title": "Alkalinity (mg/L as CaCO3)"},
      "color": {"field": "s", "type": "nominal", "title": null,
        "scale": {"domain": ["Raw","MIEX Effluent","Settled Water","Filtered Effluent (Filter 1)"], "range": ["#7463AE","#9BBB59","#4F81BD","#C0504D"]}},
      "stroke": {"field": "s", "type": "nominal", "title": null,
        "scale": {"domain": ["Raw","MIEX Effluent","Settled Water","Filtered Effluent (Filter 1)"], "range": ["#7463AE","#9BBB59","#4F81BD","#C0504D"]}},
      "shape": {"field": "s", "type": "nominal", "title": null,
        "scale": {"domain": ["Raw","MIEX Effluent","Settled Water","Filtered Effluent (Filter 1)"], "range": ["M-1,-1L1,1M-1,1L1,-1","triangle-up","diamond","square"]}}
    }
  }
]
}
